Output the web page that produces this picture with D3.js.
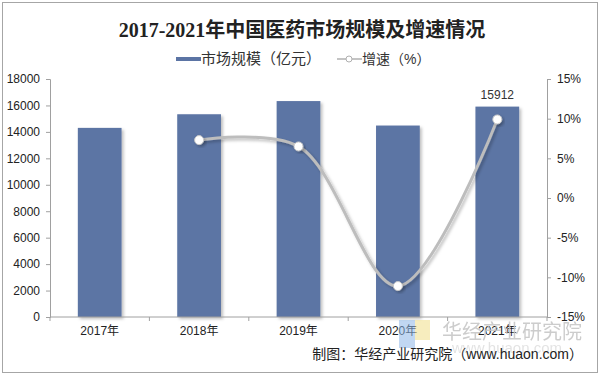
<!DOCTYPE html>
<html>
<head>
<meta charset="utf-8">
<script src="https://cdn.jsdelivr.net/npm/d3@7"></script>
<style>
  body { margin: 0; background: #fff; }
  text { font-family: "Liberation Sans", Arial, "Noto Sans CJK SC", sans-serif; }
</style>
</head>
<body>
<script>
const width = 600, height = 375
const margin = {top: 79, right: 53, bottom: 58, left: 50}

const years = ["2017年", "2018年", "2019年", "2020年", "2021年"]
const marketSize = [14304, 15334, 16330, 14480, 15912]
const growth = [null, 7.3, 6.5, -11.1, 9.9]
const leftTicks = [0, 2000, 4000, 6000, 8000, 10000, 12000, 14000, 16000, 18000]
const rightTicks = [-15, -10, -5, 0, 5, 10, 15]

const svg = d3.select("body").append("svg")
    .attr("width", width)
    .attr("height", height)

const defs = svg.append("defs")
const shadow = defs.append("filter").attr("id", "shadow")
    .attr("x", "-20%").attr("y", "-20%").attr("width", "150%").attr("height", "150%")
shadow.append("feDropShadow")
    .attr("dx", 2).attr("dy", 2).attr("stdDeviation", 1.5)
    .attr("flood-color", "#000").attr("flood-opacity", 0.25)

// outer frame
svg.append("rect")
    .attr("x", 2.5).attr("y", 2.5)
    .attr("width", width - 5).attr("height", height - 5)
    .attr("fill", "none").attr("stroke", "#a6a6a6")

// title
svg.append("text")
    .attr("x", 302).attr("y", 37)
    .attr("text-anchor", "middle")
    .style("font-family", "'Liberation Serif', 'DejaVu Serif', 'Noto Sans CJK SC', serif")
    .style("font-weight", "bold")
    .style("font-size", "20px")
    .attr("fill", "#222")
    .text("2017-2021年中国医药市场规模及增速情况")

// legend
const legend = svg.append("g").attr("transform", "translate(176,59)")
legend.append("rect").attr("x", 0).attr("y", -2).attr("width", 25).attr("height", 4).attr("fill", "#5b74a4")
legend.append("text").attr("x", 25).attr("y", 5).style("font-size", "15px").attr("fill", "#333").text("市场规模（亿元）")
legend.append("line").attr("x1", 161).attr("x2", 186).attr("y1", 0).attr("y2", 0)
    .attr("stroke", "#b0b0b0").attr("stroke-width", 1.5)
legend.append("circle").attr("cx", 173).attr("cy", 0).attr("r", 3)
    .attr("fill", "#fff").attr("stroke", "#b0b0b0")
legend.append("text").attr("x", 186).attr("y", 5).style("font-size", "14px").attr("fill", "#333").text("增速（%）")

const x = d3.scaleBand()
    .domain(years)
    .range([margin.left, width - margin.right])
    .paddingInner(0.56)
    .paddingOuter(0.28)

const y = d3.scaleLinear()
    .domain([0, 18000])
    .range([height - margin.bottom, margin.top])

const y2 = d3.scaleLinear()
    .domain([-15, 15])
    .range([height - margin.bottom, margin.top])

// bars
svg.append("g")
    .selectAll("rect")
    .data(marketSize)
    .enter().append("rect")
    .attr("x", (d, i) => x(years[i]))
    .attr("y", d => y(d))
    .attr("width", x.bandwidth())
    .attr("height", d => y(0) - y(d))
    .attr("fill", "#5b74a4")
    .attr("filter", "url(#shadow)")

// label on last bar
svg.append("text")
    .attr("x", x(years[4]) + x.bandwidth() / 2)
    .attr("y", y(marketSize[4]) - 8)
    .attr("text-anchor", "middle")
    .style("font-size", "12px")
    .attr("fill", "#333")
    .text(marketSize[4])

// axes
const axisColor = "#a0a0a0"
const styleAxis = g => {
    g.selectAll("path, line").attr("stroke", axisColor)
    g.selectAll("text").attr("fill", "#222").style("font-size", "12px")
        .style("font-family", "'Liberation Sans', Arial, 'Noto Sans CJK SC', sans-serif")
}

svg.append("g")
    .attr("transform", `translate(${margin.left},0)`)
    .call(d3.axisLeft(y).tickValues(leftTicks).tickSize(4).tickSizeOuter(4).tickPadding(6)
        .tickFormat(d3.format("d")))
    .call(styleAxis)

svg.append("g")
    .attr("transform", `translate(${width - margin.right},0)`)
    .call(d3.axisRight(y2).tickValues(rightTicks).tickSize(4).tickSizeOuter(4).tickPadding(6)
        .tickFormat(d => d + "%"))
    .call(styleAxis)

const xAxis = svg.append("g")
    .attr("transform", `translate(0,${y(0)})`)
    .call(d3.axisBottom(x).tickSize(0).tickPadding(9))
    .call(styleAxis)
xAxis.select(".domain").attr("d", `M${margin.left},0H${width - margin.right}`)
const step = x.step()
xAxis.selectAll(".sep")
    .data(d3.range(6))
    .enter().append("line")
    .attr("class", "sep")
    .attr("x1", i => margin.left + i * step)
    .attr("x2", i => margin.left + i * step)
    .attr("y1", 0).attr("y2", 4)
    .attr("stroke", axisColor)

// growth line
const pts = growth.map((d, i) => ({d, i})).filter(p => p.d !== null)
const line = d3.line()
    .x(p => x(years[p.i]) + x.bandwidth() / 2)
    .y(p => y2(p.d))
    .curve(d3.curveCatmullRom.alpha(0.5))

svg.append("path")
    .datum(pts)
    .attr("d", line)
    .attr("fill", "none")
    .attr("stroke", "#bdbdbd")
    .attr("stroke-width", 3)
    .attr("filter", "url(#shadow)")

svg.append("g")
    .selectAll("circle")
    .data(pts)
    .enter().append("circle")
    .attr("cx", p => x(years[p.i]) + x.bandwidth() / 2)
    .attr("cy", p => y2(p.d))
    .attr("r", 4.5)
    .attr("fill", "#fff")
    .attr("stroke", "#c8c8c8")
    .attr("stroke-width", 1)
    .attr("filter", "url(#shadow)")

// watermark
const wm = svg.append("g").attr("opacity", 0.55)
wm.append("rect").attr("x", 399).attr("y", 320).attr("width", 16).attr("height", 28).attr("fill", "#8fb8e8")
wm.append("rect").attr("x", 415).attr("y", 320).attr("width", 15).attr("height", 20).attr("fill", "#f2e08a")
svg.append("text")
    .attr("x", 442).attr("y", 339)
    .style("font-size", "20px")
    .style("font-family", "'Noto Sans CJK SC', sans-serif")
    .attr("fill", "#c4c4c4")
    .attr("opacity", 0.85)
    .text("华经产业研究院")
svg.append("text")
    .attr("x", 452).attr("y", 353)
    .style("font-size", "15px")
    .attr("fill", "#d8d8d8")
    .attr("opacity", 0.7)
    .text("www.huaon.com")

// source
svg.append("text")
    .attr("x", 583).attr("y", 359)
    .attr("text-anchor", "end")
    .style("font-size", "14px")
    .attr("fill", "#222")
    .text("制图：华经产业研究院（www.huaon.com）")
</script>
</body>
</html>
